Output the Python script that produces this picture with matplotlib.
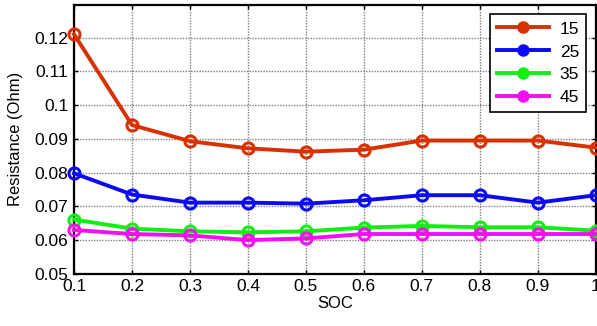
import matplotlib
matplotlib.use("Agg")
import matplotlib.pyplot as plt

# SOC points and resistance per temperature
soc = [0.1, 0.2, 0.3, 0.4, 0.5, 0.6, 0.7, 0.8, 0.9, 1.0]
r15 = [0.1210, 0.0941, 0.0893, 0.0872, 0.0862, 0.0868, 0.0895, 0.0895, 0.0895, 0.0874]
r25 = [0.0798, 0.0735, 0.0711, 0.0711, 0.0708, 0.0718, 0.0733, 0.0733, 0.0711, 0.0733]
r35 = [0.0661, 0.0634, 0.0626, 0.0623, 0.0626, 0.0637, 0.0642, 0.0638, 0.0638, 0.0628]
r45 = [0.0630, 0.0618, 0.0614, 0.0600, 0.0605, 0.0618, 0.0618, 0.0618, 0.0618, 0.0618]
labels = ["15", "25", "35", "45"]
colors = ["#d93000", "#0a0af5", "#10f010", "#f010f0"]

plt.rcParams["font.family"] = ["Liberation Sans", "DejaVu Sans"]

fig = plt.figure(figsize=(5.97, 3.26), dpi=100)
ax = fig.add_axes([0.124, 0.160, 0.874, 0.825])

for vals, lab, c in zip([r15, r25, r35, r45], labels, colors):
    ax.plot(soc, vals, color=c, lw=2.8, marker="o", ms=8, mew=2.2,
            mfc="none", label=lab, clip_on=False, zorder=3)

ax.set_xlim(0.1, 1.0)
ax.set_ylim(0.05, 0.1297)
ax.set_xticks(soc)
ax.set_xticklabels(["0.1", "0.2", "0.3", "0.4", "0.5", "0.6", "0.7", "0.8", "0.9", "1"])
ax.set_yticks([0.05, 0.06, 0.07, 0.08, 0.09, 0.1, 0.11, 0.12])
ax.set_yticklabels(["0.05", "0.06", "0.07", "0.08", "0.09", "0.1", "0.11", "0.12"])
ax.tick_params(direction="in", length=3, width=1, labelsize=12.5, top=True, right=True, pad=4)
ax.grid(True, color="0.5", ls=(0, (1, 1)), lw=1.0)
for s in ax.spines.values():
    s.set_linewidth(1.6)

ax.set_xlabel("SOC", fontsize=12, labelpad=1)
ax.set_ylabel("Resistance (Ohm)", fontsize=12, labelpad=8)

leg = ax.legend(loc="upper right", fontsize=12.5, fancybox=False, framealpha=1,
                edgecolor="black", handlelength=3.0, handletextpad=0.6,
                labelspacing=0.45, borderaxespad=0.55, borderpad=0.4,
                markerscale=0.85)
leg.get_frame().set_linewidth(1.2)
for h in leg.legend_handles:
    h.set_markerfacecolor(h.get_color())

fig.savefig("out.png", dpi=100)
